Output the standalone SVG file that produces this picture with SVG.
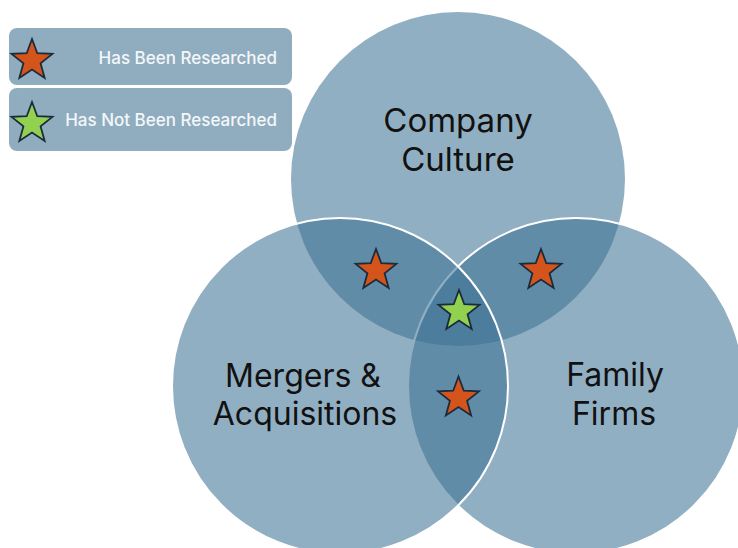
<svg xmlns="http://www.w3.org/2000/svg" xmlns:xlink="http://www.w3.org/1999/xlink" width="738" height="548" viewBox="0 0 738 548">
  <style>
    .set { fill: #3e7293; fill-opacity: 0.57; }
    .rim { stroke: #ffffff; stroke-width: 2; }
    .label { font-family: Inter, "Noto Sans", "Liberation Sans", sans-serif; font-size: 32px; fill: #111111; text-anchor: middle; }
    .key { fill: #8fadbf; }
    .keytext { font-family: Inter, "Noto Sans", "Liberation Sans", sans-serif; font-size: 17px; font-weight: 500; fill: #f4f7f9; text-anchor: end; }
    .done { fill: #d4541c; stroke: #1c2b3c; stroke-width: 1.8; stroke-linejoin: miter; }
    .open { fill: #92d050; stroke: #1c2b3c; stroke-width: 1.8; stroke-linejoin: miter; }
  </style>
  <defs>
    <!-- five-point star centred on its circumcircle -->
    <path id="star" d="M0,-21.5 L5.29,-7.28 L20.45,-6.64 L8.56,2.78 L12.64,17.39 L0,9 L-12.64,17.39 L-8.56,2.78 L-20.45,-6.64 L-5.29,-7.28 Z"/>
  </defs>

  <rect width="738" height="548" fill="#ffffff"/>

  <!-- legend -->
  <g id="legend-researched">
    <rect class="key" x="9" y="28" width="283" height="57" rx="8"/>
    <use xlink:href="#star" href="#star" class="done" x="32" y="60.5"/>
    <text class="keytext" x="277" y="64">Has Been Researched</text>
  </g>
  <g id="legend-not-researched">
    <rect class="key" x="9" y="88" width="283" height="63" rx="8"/>
    <use xlink:href="#star" href="#star" class="open" x="32" y="123.5"/>
    <text class="keytext" x="277" y="126">Has Not Been Researched</text>
  </g>

  <!-- the three sets -->
  <g id="company-culture">
    <circle class="set" cx="458" cy="179" r="167"/>
    <text class="label" x="458" y="132" style="font-size:33px">Company</text>
    <text class="label" x="458" y="171" style="font-size:33px">Culture</text>
  </g>
  <g id="family-firms">
    <circle class="set rim" cx="576" cy="386" r="168"/>
    <text class="label" x="615" y="386">Family</text>
    <text class="label" x="614" y="425">Firms</text>
  </g>
  <g id="mergers-acquisitions">
    <circle class="set rim" cx="340" cy="386" r="168"/>
    <text class="label" x="303" y="387">Mergers &amp;</text>
    <text class="label" x="305" y="425">Acquisitions</text>
  </g>

  <!-- overlap markers -->
  <g id="markers">
    <use xlink:href="#star" href="#star" class="done" x="376" y="270.5"/>
    <use xlink:href="#star" href="#star" class="done" x="541" y="270.5"/>
    <use xlink:href="#star" href="#star" class="open" x="459" y="311.5"/>
    <use xlink:href="#star" href="#star" class="done" x="458.5" y="398"/>
  </g>
</svg>
